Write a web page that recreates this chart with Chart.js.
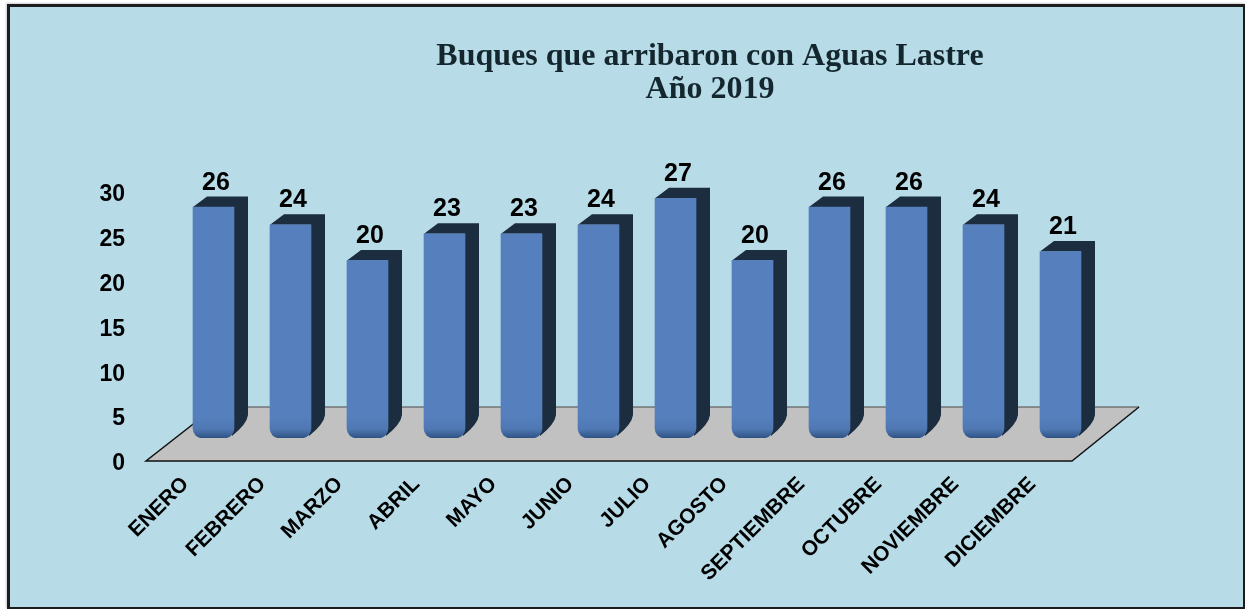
<!DOCTYPE html>
<html>
<head>
<meta charset="utf-8">
<title>Buques que arribaron con Aguas Lastre</title>
<script src="https://cdn.jsdelivr.net/npm/chart.js@4"></script>
<style>
    html, body { margin: 0; background: #fff; }
    #wrap { position: relative; width: 1245px; height: 609px; overflow: hidden; }
    #marco {
        position: absolute; left: 7px; top: 4px; width: 1233px; height: 600px;
        background: #b7dce8; border: solid #1c1c1c;
        border-width: 3px 2px 2px 3px;
        box-shadow: -1px -1px 2px #ccc;
    }
    #grafico { position: absolute; left: 0; top: 0; }
</style>
</head>
<body>
<div id="wrap">
    <div id="marco"></div>
    <canvas id="grafico"></canvas>
</div>
<script>
const meses = ["ENERO", "FEBRERO", "MARZO", "ABRIL", "MAYO", "JUNIO", "JULIO", "AGOSTO", "SEPTIEMBRE", "OCTUBRE", "NOVIEMBRE", "DICIEMBRE"];
const buques = [26, 24, 20, 23, 23, 24, 27, 20, 26, 26, 24, 21];
const titulo = ["Buques que arribaron con Aguas Lastre", "Año 2019"];

// profundidad del falso 3D
const fondoX = 14;
const fondoY = 10.5;

// Piso gris y caras laterales de las barras, por detrás de las barras
const caras3D = {
    id: 'caras3D',
    afterLayout(chart) {
        // el título va corrido a la derecha
        chart.titleBlock.left = 175;
        chart.titleBlock.right = 1245;
    },
    beforeDatasetsDraw(chart) {
        const ctx = chart.ctx;
        const area = chart.chartArea;
        const base = chart.scales.y.getPixelForValue(0);

        ctx.save();
        ctx.beginPath();
        ctx.moveTo(area.left - 29, base + 23);
        ctx.lineTo(area.right - 27, base + 23);
        ctx.lineTo(area.right + 40, base - 31);
        ctx.lineTo(area.left + 40, base - 31);
        ctx.closePath();
        ctx.fillStyle = "#c1c1c1";
        ctx.fill();
        ctx.strokeStyle = "#4a4a4a";
        ctx.lineWidth = 1;
        ctx.beginPath();
        ctx.moveTo(area.left + 40, base - 31);
        ctx.lineTo(area.right + 40, base - 31);
        ctx.stroke();
        ctx.strokeStyle = "#111";
        ctx.lineWidth = 1.5;
        ctx.beginPath();
        ctx.moveTo(area.right + 40, base - 31);
        ctx.lineTo(area.right - 27, base + 23);
        ctx.lineTo(area.left - 29, base + 23);
        ctx.lineTo(area.left + 40, base - 31);
        ctx.stroke();

        ctx.fillStyle = "#1c2d40";
        chart.getDatasetMeta(0).data.forEach(function(barra) {
            const der = barra.x + barra.width / 2;
            const izq = barra.x - barra.width / 2;
            ctx.beginPath();
            ctx.moveTo(izq, barra.y);
            ctx.lineTo(izq + fondoX, barra.y - fondoY);
            ctx.lineTo(der + fondoX, barra.y - fondoY);
            ctx.lineTo(der + fondoX, base - 23);
            ctx.quadraticCurveTo(der + fondoX - 1, base - 14, der - 2, base - 2);
            ctx.lineTo(der, barra.y);
            ctx.closePath();
            ctx.fill();
        });
        ctx.restore();
    },
    afterDatasetsDraw(chart) {
        const ctx = chart.ctx;
        ctx.save();
        ctx.fillStyle = "#000";
        ctx.font = "bold 25px 'Liberation Sans'";
        ctx.textAlign = "center";
        ctx.textBaseline = "alphabetic";
        chart.getDatasetMeta(0).data.forEach(function(barra, i) {
            ctx.fillText(buques[i], barra.x + 2.5, barra.y - fondoY - 7);
        });
        ctx.restore();
    }
};

// Azul de la barra, se oscurece en la parte de abajo
function colorBarra(context) {
    const chart = context.chart;
    if (!chart.chartArea) return "#5580bd";
    const base = chart.scales.y.getPixelForValue(0);
    const g = chart.ctx.createLinearGradient(0, base - 22, 0, base);
    g.addColorStop(0, "#5580bd");
    g.addColorStop(0.6, "#4f78b3");
    g.addColorStop(1, "#2f5384");
    return g;
}

new Chart(document.getElementById('grafico'), {
    type: 'bar',
    data: {
        labels: meses,
        datasets: [{
            data: buques,
            yAxisID: 'y',
            backgroundColor: colorBarra,
            borderWidth: 0,
            borderSkipped: false,
            borderRadius: { topLeft: 0, topRight: 0, bottomLeft: 10, bottomRight: 10 },
            barThickness: 41
        }]
    },
    plugins: [caras3D],
    options: {
        responsive: true,
        maintainAspectRatio: false,
        animation: false,
        layout: { padding: { right: 146 } },
        plugins: {
            legend: { display: false },
            tooltip: { enabled: false },
            title: {
                display: true,
                text: titulo,
                color: "#14262e",
                font: { family: "'Liberation Serif'", size: 32, weight: 'bold', lineHeight: 1.03 },
                padding: { top: 40, bottom: 63 }
            }
        },
        scales: {
            x: {
                grid: { display: false },
                border: { display: false },
                afterFit(scale) { scale.height = 171; },
                ticks: {
                    color: "#000",
                    font: { family: "'Liberation Sans'", size: 21, weight: 'bold' },
                    minRotation: 45,
                    maxRotation: 45,
                    padding: 26,
                    labelOffset: -28,
                    autoSkip: false
                }
            },
            // escala de las barras, sin dibujar
            y: {
                display: false,
                min: 0,
                max: 30.3
            },
            // escala de las etiquetas, algo más abierta y bajada al frente del piso
            etiquetas: {
                position: 'left',
                min: 0,
                max: 30,
                grid: { display: false },
                border: { display: false },
                afterFit(scale) { scale.width = 175; },
                ticks: {
                    color: "#000",
                    font: { family: "'Liberation Sans'", size: 23, weight: 'bold' },
                    stepSize: 5,
                    padding: 42,
                    labelOffset: 26
                }
            }
        }
    }
});
</script>
</body>
</html>
